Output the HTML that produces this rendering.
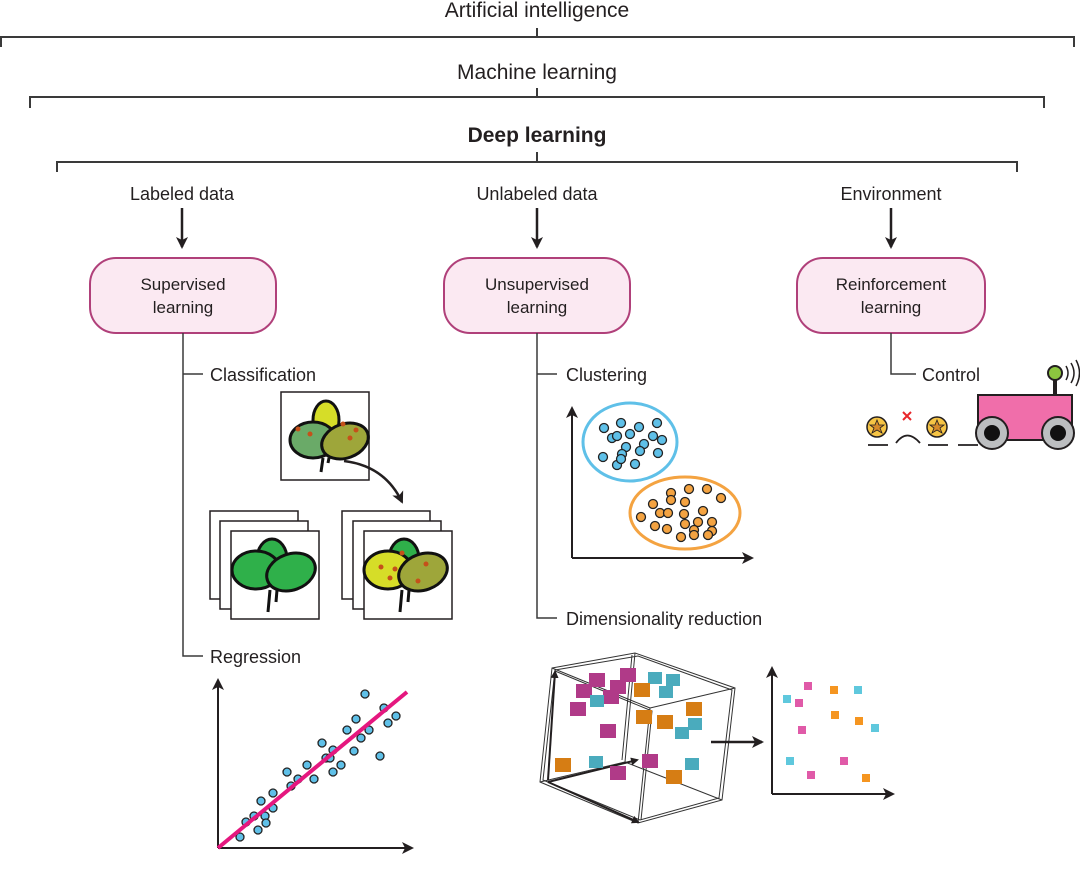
<!DOCTYPE html>
<html><head><style>
html,body{margin:0;padding:0;background:#fff;}
svg{display:block;font-family:"Liberation Sans",sans-serif;}
.t{font-size:18px;fill:#231f20;}
.bx{font-size:17px;fill:#231f20;text-anchor:middle;}
</style></head><body>
<svg width="1080" height="887" viewBox="0 0 1080 887">
<defs>
<marker id="ah" markerWidth="8" markerHeight="8" refX="6" refY="4" orient="auto" markerUnits="userSpaceOnUse"><path d="M0,0 L8,4 L0,8 Z" fill="#231f20"/></marker>
<marker id="ab" markerWidth="12" markerHeight="12" refX="10" refY="6" orient="auto" markerUnits="userSpaceOnUse"><path d="M0,0 L12,6 L0,12 L3,6 Z" fill="#231f20"/></marker>
</defs>
<g stroke="#3a3a3a" stroke-width="2" fill="none">
<path d="M1,47 V37 H1074 V47 M537,28 V37"/>
<path d="M30,108 V97 H1044 V108 M537,88 V97"/>
<path d="M57,172 V162 H1017 V172 M537,152 V162"/>
</g>
<text x="537" y="17" class="t" font-size="21" text-anchor="middle" style="font-size:21px">Artificial intelligence</text>
<text x="537" y="79" class="t" text-anchor="middle" style="font-size:21px">Machine learning</text>
<text x="537" y="142" class="t" text-anchor="middle" style="font-size:21px;font-weight:bold">Deep learning</text>
<text x="182" y="200" class="t" text-anchor="middle">Labeled data</text>
<text x="537" y="200" class="t" text-anchor="middle">Unlabeled data</text>
<text x="891" y="200" class="t" text-anchor="middle">Environment</text>
<g stroke="#231f20" stroke-width="2.5" marker-end="url(#ab)">
<line x1="182" y1="208" x2="182" y2="247"/>
<line x1="537" y1="208" x2="537" y2="247"/>
<line x1="891" y1="208" x2="891" y2="247"/>
</g>
<g fill="#fbe9f2" stroke="#b0407a" stroke-width="2">
<rect x="90" y="258" width="186" height="75" rx="26"/>
<rect x="444" y="258" width="186" height="75" rx="26"/>
<rect x="797" y="258" width="188" height="75" rx="26"/>
</g>
<text x="183" y="290" class="bx">Supervised</text><text x="183" y="313" class="bx">learning</text>
<text x="537" y="290" class="bx">Unsupervised</text><text x="537" y="313" class="bx">learning</text>
<text x="891" y="290" class="bx">Reinforcement</text><text x="891" y="313" class="bx">learning</text>
<g stroke="#3a3a3a" stroke-width="1.5" fill="none">
<path d="M183,333 V656 H203 M183,374 H203"/>
<path d="M537,333 V618 H557 M537,374 H557"/>
<path d="M891,333 V374 H916"/>
</g>
<text x="210" y="381" class="t">Classification</text>
<text x="210" y="663" class="t">Regression</text>
<text x="566" y="381" class="t">Clustering</text>
<text x="566" y="625" class="t">Dimensionality reduction</text>
<text x="922" y="381" class="t">Control</text>

<!-- classification -->
<g stroke="#231f20" stroke-width="1.5" fill="#fff">
<rect x="281" y="392" width="88" height="88"/>
<rect x="210" y="511" width="88" height="88"/><rect x="220" y="521" width="88" height="88"/><rect x="231" y="531" width="88" height="88"/>
<rect x="342" y="511" width="88" height="88"/><rect x="353" y="521" width="88" height="88"/><rect x="364" y="531" width="88" height="88"/>
</g>
<g stroke="#111" stroke-width="3">
<ellipse cx="326" cy="420" rx="13" ry="19" fill="#d6dd28"/>
<ellipse cx="313" cy="440" rx="23" ry="18" fill="#6aaa68"/>
<ellipse cx="345" cy="441" rx="24" ry="17" fill="#9ea63a" transform="rotate(-20 345 441)"/>
<path d="M323,458 L321,472 M329,458 L328,463" fill="none"/>
<ellipse cx="272" cy="559" rx="15" ry="20" fill="#2fb04a"/>
<ellipse cx="256" cy="570" rx="24" ry="19" fill="#2fb04a"/>
<ellipse cx="291" cy="572" rx="25" ry="18" fill="#2fb04a" transform="rotate(-20 291 572)"/>
<path d="M270,590 L268,612 M277,590 L276,602" fill="none"/>
<ellipse cx="404" cy="559" rx="15" ry="20" fill="#2fb04a"/>
<ellipse cx="388" cy="570" rx="24" ry="19" fill="#d6dd28"/>
<ellipse cx="423" cy="572" rx="25" ry="18" fill="#9ea63a" transform="rotate(-20 423 572)"/>
<path d="M402,590 L400,612 M409,590 L408,602" fill="none"/>
</g>
<g fill="#c5511a">
<circle cx="298" cy="429" r="2.5"/><circle cx="310" cy="434" r="2.5"/><circle cx="343" cy="424" r="2.5"/><circle cx="356" cy="430" r="2.5"/><circle cx="350" cy="438" r="2.5"/>
<circle cx="402" cy="553" r="2.5"/><circle cx="381" cy="567" r="2.5"/><circle cx="395" cy="569" r="2.5"/><circle cx="390" cy="578" r="2.5"/><circle cx="426" cy="564" r="2.5"/><circle cx="418" cy="581" r="2.5"/>
</g>
<path d="M344,461 Q385,466 402,502" stroke="#231f20" stroke-width="2.5" fill="none" marker-end="url(#ab)"/>

<!-- clustering -->
<g stroke="#231f20" stroke-width="2" marker-end="url(#ab)">
<line x1="572" y1="558" x2="572" y2="408"/><line x1="572" y1="558" x2="752" y2="558"/>
</g>
<ellipse cx="630" cy="442" rx="47" ry="39" fill="none" stroke="#5fc0e8" stroke-width="3"/>
<ellipse cx="685" cy="513" rx="55" ry="36" fill="none" stroke="#f4a341" stroke-width="3"/>
<g fill="#5fc0e8" stroke="#222" stroke-width="1.3">
<circle cx="604" cy="428" r="4.5"/><circle cx="621" cy="423" r="4.5"/><circle cx="639" cy="427" r="4.5"/><circle cx="657" cy="423" r="4.5"/><circle cx="612" cy="438" r="4.5"/><circle cx="617" cy="436" r="4.5"/><circle cx="630" cy="434" r="4.5"/><circle cx="653" cy="436" r="4.5"/><circle cx="662" cy="440" r="4.5"/><circle cx="626" cy="447" r="4.5"/><circle cx="644" cy="444" r="4.5"/><circle cx="603" cy="457" r="4.5"/><circle cx="622" cy="454" r="4.5"/><circle cx="640" cy="451" r="4.5"/><circle cx="658" cy="453" r="4.5"/><circle cx="617" cy="465" r="4.5"/><circle cx="635" cy="464" r="4.5"/><circle cx="621" cy="459" r="4.5"/>
</g>
<g fill="#f4a341" stroke="#222" stroke-width="1.3">
<circle cx="671" cy="493" r="4.5"/><circle cx="689" cy="489" r="4.5"/><circle cx="707" cy="489" r="4.5"/><circle cx="721" cy="498" r="4.5"/><circle cx="671" cy="500" r="4.5"/><circle cx="653" cy="504" r="4.5"/><circle cx="685" cy="502" r="4.5"/><circle cx="660" cy="513" r="4.5"/><circle cx="668" cy="513" r="4.5"/><circle cx="684" cy="514" r="4.5"/><circle cx="703" cy="511" r="4.5"/><circle cx="641" cy="517" r="4.5"/><circle cx="685" cy="524" r="4.5"/><circle cx="698" cy="522" r="4.5"/><circle cx="712" cy="522" r="4.5"/><circle cx="655" cy="526" r="4.5"/><circle cx="667" cy="529" r="4.5"/><circle cx="694" cy="530" r="4.5"/><circle cx="712" cy="531" r="4.5"/><circle cx="681" cy="537" r="4.5"/><circle cx="694" cy="535" r="4.5"/><circle cx="708" cy="535" r="4.5"/>
</g>

<!-- regression -->
<g stroke="#231f20" stroke-width="2" marker-end="url(#ab)">
<line x1="218" y1="848" x2="218" y2="680"/><line x1="218" y1="848" x2="412" y2="848"/>
</g>
<g fill="#5fc0e8" stroke="#222" stroke-width="1.3">
<circle cx="240" cy="837" r="4"/><circle cx="246" cy="822" r="4"/><circle cx="254" cy="816" r="4"/><circle cx="258" cy="830" r="4"/><circle cx="261" cy="801" r="4"/><circle cx="265" cy="816" r="4"/><circle cx="266" cy="823" r="4"/><circle cx="273" cy="793" r="4"/><circle cx="273" cy="808" r="4"/><circle cx="287" cy="772" r="4"/><circle cx="291" cy="786" r="4"/><circle cx="298" cy="779" r="4"/><circle cx="307" cy="765" r="4"/><circle cx="314" cy="779" r="4"/><circle cx="322" cy="743" r="4"/><circle cx="326" cy="758" r="4"/><circle cx="330" cy="758" r="4"/><circle cx="333" cy="750" r="4"/><circle cx="333" cy="772" r="4"/><circle cx="341" cy="765" r="4"/><circle cx="347" cy="730" r="4"/><circle cx="354" cy="751" r="4"/><circle cx="356" cy="719" r="4"/><circle cx="361" cy="738" r="4"/><circle cx="365" cy="694" r="4"/><circle cx="369" cy="730" r="4"/><circle cx="380" cy="756" r="4"/><circle cx="384" cy="708" r="4"/><circle cx="388" cy="723" r="4"/><circle cx="396" cy="716" r="4"/>
</g>
<line x1="218" y1="848" x2="407" y2="692" stroke="#e5177f" stroke-width="4"/>

<!-- cube -->
<g stroke="#333" stroke-width="1" fill="none">
<path d="M552,668 L635,653 L735,688 L722,800 L638,823 L540,782 Z"/>
<path d="M555,670 L638,656 L732,690 L719,798 L640,820 L543,780 Z"/>
<path d="M552,668 L650,708 L638,823 M650,708 L735,688"/>
<path d="M555,671 L652,711 L641,820"/>
<path d="M635,653 L625,762 L540,782 M625,762 L722,800"/>
<path d="M632,655 L622,760"/>
</g>
<g stroke="#231f20" stroke-width="2" marker-end="url(#ah)">
<line x1="548" y1="780" x2="555" y2="672"/>
<line x1="548" y1="782" x2="637" y2="760"/>
<line x1="548" y1="782" x2="638" y2="822"/>
</g>
<g>
<g fill="#b03a88"><rect x="589" y="673" width="16" height="14"/><rect x="620" y="668" width="16" height="14"/><rect x="576" y="684" width="16" height="14"/><rect x="610" y="680" width="16" height="14"/><rect x="603" y="690" width="16" height="14"/><rect x="570" y="702" width="16" height="14"/><rect x="600" y="724" width="16" height="14"/><rect x="610" y="766" width="16" height="14"/><rect x="642" y="754" width="16" height="14"/></g>
<g fill="#4aabbd"><rect x="648" y="672" width="14" height="12"/><rect x="666" y="674" width="14" height="12"/><rect x="659" y="686" width="14" height="12"/><rect x="590" y="695" width="14" height="12"/><rect x="688" y="718" width="14" height="12"/><rect x="675" y="727" width="14" height="12"/><rect x="589" y="756" width="14" height="12"/><rect x="685" y="758" width="14" height="12"/></g>
<g fill="#d67d14"><rect x="634" y="683" width="16" height="14"/><rect x="686" y="702" width="16" height="14"/><rect x="636" y="710" width="16" height="14"/><rect x="657" y="715" width="16" height="14"/><rect x="555" y="758" width="16" height="14"/><rect x="666" y="770" width="16" height="14"/></g>
</g>
<line x1="711" y1="742" x2="762" y2="742" stroke="#231f20" stroke-width="2.5" marker-end="url(#ab)"/>
<g stroke="#231f20" stroke-width="2" marker-end="url(#ab)">
<line x1="772" y1="794" x2="772" y2="668"/><line x1="772" y1="794" x2="893" y2="794"/>
</g>
<g fill="#e05aa8"><rect x="804" y="682" width="8" height="8"/><rect x="795" y="699" width="8" height="8"/><rect x="798" y="726" width="8" height="8"/><rect x="840" y="757" width="8" height="8"/><rect x="807" y="771" width="8" height="8"/></g>
<g fill="#5fc8dd"><rect x="783" y="695" width="8" height="8"/><rect x="854" y="686" width="8" height="8"/><rect x="871" y="724" width="8" height="8"/><rect x="786" y="757" width="8" height="8"/></g>
<g fill="#f59520"><rect x="830" y="686" width="8" height="8"/><rect x="831" y="711" width="8" height="8"/><rect x="855" y="717" width="8" height="8"/><rect x="862" y="774" width="8" height="8"/></g>

<!-- robot -->
<rect x="978" y="395" width="94" height="45" fill="#f06eaa" stroke="#231f20" stroke-width="2"/>
<line x1="1055" y1="380" x2="1055" y2="395" stroke="#231f20" stroke-width="4"/>
<circle cx="1055" cy="373" r="7" fill="#8cc63f" stroke="#231f20" stroke-width="2"/>
<path d="M1066,366 Q1070,373 1066,380 M1071,363 Q1077,373 1071,383 M1076,360 Q1083,373 1076,386" stroke="#231f20" stroke-width="1.5" fill="none"/>
<circle cx="992" cy="433" r="16" fill="#bcbec0" stroke="#231f20" stroke-width="2"/><circle cx="992" cy="433" r="8" fill="#111"/>
<circle cx="1058" cy="433" r="16" fill="#bcbec0" stroke="#231f20" stroke-width="2"/><circle cx="1058" cy="433" r="8" fill="#111"/>
<g stroke="#231f20" stroke-width="1.8" fill="none">
<line x1="868" y1="445" x2="888" y2="445"/><line x1="928" y1="445" x2="948" y2="445"/><line x1="958" y1="445" x2="978" y2="445"/>
<path d="M896,443 Q907,428 920,443"/>
</g>
<g stroke="#231f20" stroke-width="1.5"><circle cx="877" cy="427" r="10" fill="#f6c445"/><circle cx="937" cy="427" r="10" fill="#f6c445"/></g>
<g fill="#d68a2a" stroke="#231f20" stroke-width="0.8"><path d="M877,420 L879,425 L884,425 L880,428 L882,433 L877,430 L872,433 L874,428 L870,425 L875,425 Z"/><path d="M937,420 L939,425 L944,425 L940,428 L942,433 L937,430 L932,433 L934,428 L930,425 L935,425 Z"/></g>
<path d="M903,412 L911,420 M911,412 L903,420" stroke="#e8262a" stroke-width="2"/>
</svg>
</body></html>
